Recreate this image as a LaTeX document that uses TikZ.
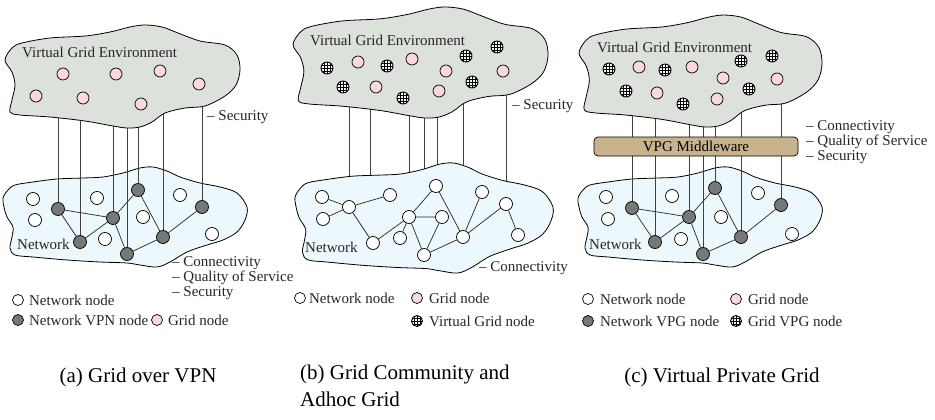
\documentclass[tikz,border=0pt]{standalone}
\usepackage{fontspec}
\setmainfont{Liberation Serif}
\usetikzlibrary{positioning}

\definecolor{vgegray}{HTML}{DDE1DC}
\definecolor{netblue}{HTML}{EDF8FC}
\definecolor{gridpink}{HTML}{FAD9DC}
\definecolor{vpngray}{HTML}{787878}
\definecolor{mwtan}{HTML}{C8B48C}

% cloud outlines, drawn in the coordinates of panel (a)
\newcommand{\vgepath}{plot[smooth cycle, tension=0.55] coordinates {(5,60) (12,48) (22,43) (50,38) (85,36) (110,32) (130,27) (145,25) (162,27) (178,33) (200,41) (225,45) (237,55) (240,70) (236,85) (225,96) (205,106) (185,108) (165,113) (152,122) (140,127) (127,128) (113,126) (85,121) (50,117) (20,115) (10,112) (12,100) (15,85) (12,72)}}
\newcommand{\netpath}{plot[smooth cycle, tension=0.55] coordinates {(3,198) (8,190) (15,185) (33,182) (57,179) (83,178) (103,177) (123,173) (140,168) (153,167) (167,171) (180,177) (200,183) (220,187) (237,193) (247,207) (245,220) (237,232) (223,240) (207,245) (187,252) (170,262) (157,267) (140,265) (127,263) (100,262) (67,260) (33,257) (15,255) (10,248) (12,237) (13,227) (7,217) (4,207)}}

\tikzset{
  vgecloud/.style={fill=vgegray, draw, line width=0.8pt},
  netcloud/.style={fill=netblue, draw, line width=0.8pt},
  netnode/.style={circle, draw, fill=white, minimum size=13pt, inner sep=0pt, line width=0.7pt},
  vpnnode/.style={netnode, fill=vpngray},
  gridnode/.style={netnode, fill=gridpink, minimum size=12pt},
  meshnode/.style={netnode, minimum size=12pt, line width=0.9pt, path picture={
    \foreach \k in {-3,0,3}{
      \draw[line width=0.6pt] ([xshift=\k pt]path picture bounding box.north) -- ([xshift=\k pt]path picture bounding box.south);
      \draw[line width=0.6pt] ([yshift=\k pt]path picture bounding box.west) -- ([yshift=\k pt]path picture bounding box.east);
    }}},
  legnode/.style={minimum size=11pt},
  link/.style={line width=0.7pt, draw=black!85},
  drop/.style={line width=0.6pt, draw=black!75},
  txt/.style={font=\fontsize{15}{15}\selectfont, inner sep=0pt, text=black!85},
  caption/.style={font=\fontsize{21}{27}\selectfont, inner sep=0pt},
  mwbox/.style={draw, fill=mwtan, rounded corners=4pt, line width=0.7pt, minimum width=204pt, minimum height=19pt, inner sep=0pt, font=\fontsize{15}{15}\selectfont}
}

\begin{document}
\begin{tikzpicture}[x=1pt, y=-1pt]
\useasboundingbox (0,0) rectangle (935,420);

% (a) grid over VPN
\filldraw[netcloud] \netpath;
\node[netnode] (aw1) at (33,199) {};
\node[netnode] (aw2) at (97,198) {};
\node[netnode] (aw3) at (180,195) {};
\node[netnode] (aw4) at (35,220) {};
\node[netnode] (aw5) at (143,217) {};
\node[netnode] (aw6) at (105,239) {};
\node[netnode] (aw7) at (212,234) {};
\node[vpnnode] (av1) at (58,209) {};
\node[vpnnode] (av2) at (80,242) {};
\node[vpnnode] (av3) at (113,218) {};
\node[vpnnode] (av4) at (138,190) {};
\node[vpnnode] (av5) at (127,254) {};
\node[vpnnode] (av6) at (163,237) {};
\node[vpnnode] (av7) at (202,207) {};
\draw[link] (av1) -- (av3) (av1) -- (av2) (av2) -- (av3) (av3) -- (av4)
  (av3) -- (av5) (av4) -- (av6) (av5) -- (av6) (av6) -- (av7);
\foreach \n in {1,...,7} \draw[drop] (av\n) -- (av\n |- 0,95);

\filldraw[vgecloud] \vgepath;
\node[txt, anchor=west] (avge) at (22,52) {Virtual Grid Environment};
\node[gridnode] (ag1) at (63,74) {};
\node[gridnode] (ag2) at (116,74) {};
\node[gridnode] (ag3) at (160,71) {};
\node[gridnode] (ag4) at (199,84) {};
\node[gridnode] (ag5) at (36,96) {};
\node[gridnode] (ag6) at (83,98) {};
\node[gridnode] (ag7) at (141,104) {};

\node[txt, anchor=west] (asec) at (207,117) {-- Security};
\node[txt, anchor=west] (anet) at (17,244) {Network};
\node[txt, anchor=west, align=left] (alist) at (172,278) {-- Connectivity\\-- Quality of Service\\-- Security};

\node[netnode, legnode] (la1) at (18,300) {};
\node[txt, right=5pt of la1] {Network node};
\node[vpnnode, legnode] (la2) at (18,320) {};
\node[txt, right=5pt of la2] {Network VPN node};
\node[gridnode, legnode] (la3) at (157,320) {};
\node[txt, right=5pt of la3] {Grid node};

% (b) grid community and adhoc grid
\foreach \x [count=\i] in {349,370,409,424,437,463,506}{
  \coordinate (bt\i) at (\x,85);
  \coordinate (bb\i) at (\x,200);
  \draw[drop] (bt\i) -- (bb\i);
}
\begin{scope}[shift={(420,62.5)}, xscale=1.085, yscale=1.078, shift={(-122,-76.5)}]
  \filldraw[vgecloud] \vgepath;
\end{scope}
\begin{scope}[shift={(424,218)}, xscale=1.057, yscale=1.1, shift={(-125,-217)}]
  \filldraw[netcloud] \netpath;
\end{scope}

\node[txt, anchor=west] (bvge) at (310,40) {Virtual Grid Environment};
\node[meshnode] (bm1) at (327,68) {};
\node[meshnode] (bm2) at (387,66) {};
\node[meshnode] (bm3) at (466,56) {};
\node[meshnode] (bm4) at (497,47) {};
\node[meshnode] (bm5) at (343,87) {};
\node[meshnode] (bm6) at (403,98) {};
\node[meshnode] (bm7) at (472,82) {};
\node[gridnode] (bg1) at (358,62) {};
\node[gridnode] (bg2) at (412,59) {};
\node[gridnode] (bg3) at (446,71) {};
\node[gridnode] (bg4) at (503,71) {};
\node[gridnode] (bg5) at (376,87) {};
\node[gridnode] (bg6) at (439,91) {};

\node[netnode] (bn1) at (322,197) {};
\node[netnode] (bn2) at (349,207) {};
\node[netnode] (bn3) at (390,195) {};
\node[netnode] (bn4) at (323,219) {};
\node[netnode] (bn5) at (373,243) {};
\node[netnode] (bn6) at (400,238) {};
\node[netnode] (bn7) at (409,217) {};
\node[netnode] (bn8) at (436,186) {};
\node[netnode] (bn9) at (442,217) {};
\node[netnode] (bn10) at (424,255) {};
\node[netnode] (bn11) at (463,237) {};
\node[netnode] (bn12) at (482,192) {};
\node[netnode] (bn13) at (506,204) {};
\node[netnode] (bn14) at (518,235) {};
\draw[link] (bn1) -- (bn2) (bn4) -- (bn2) (bn2) -- (bn3) (bn2) -- (bn5)
  (bn5) -- (bn7) (bn6) -- (bn7) (bn7) -- (bn8) (bn7) -- (bn9) (bn7) -- (bn10)
  (bn9) -- (bn10) (bn8) -- (bn11) (bn10) -- (bn11) (bn11) -- (bn12)
  (bn11) -- (bn13) (bn13) -- (bn14);

\node[txt, anchor=west] (bsec) at (512,106) {-- Security};
\node[txt, anchor=west] (bnet) at (305,247) {Network};
\node[txt, anchor=west] (bcon) at (479,268) {-- Connectivity};

\node[netnode, legnode] (lb1) at (300,298) {};
\node[txt, right=3pt of lb1] {Network node};
\node[gridnode, legnode] (lb2) at (417,298) {};
\node[txt, right=6pt of lb2] {Grid node};
\node[meshnode, legnode] (lb3) at (417,321) {};
\node[txt, right=6pt of lb3] {Virtual Grid node};

% (c) virtual private grid
\begin{scope}[xshift=575]
  \filldraw[netcloud] \netpath;
\end{scope}
\node[netnode] (cw1) at (606,197) {};
\node[netnode] (cw2) at (672,196) {};
\node[netnode] (cw3) at (758,193) {};
\node[netnode] (cw4) at (608,219) {};
\node[netnode] (cw5) at (721,217) {};
\node[netnode] (cw6) at (681,239) {};
\node[netnode] (cw7) at (792,234) {};
\node[vpnnode] (cv1) at (632,208) {};
\node[vpnnode] (cv2) at (655,242) {};
\node[vpnnode] (cv3) at (689,217) {};
\node[vpnnode] (cv4) at (715,188) {};
\node[vpnnode] (cv5) at (703,254) {};
\node[vpnnode] (cv6) at (741,237) {};
\node[vpnnode] (cv7) at (781,205) {};
\draw[link] (cv1) -- (cv3) (cv1) -- (cv2) (cv2) -- (cv3) (cv3) -- (cv4)
  (cv3) -- (cv5) (cv4) -- (cv6) (cv5) -- (cv6) (cv6) -- (cv7);
\foreach \n in {1,...,7} \draw[drop] (cv\n) -- (cv\n |- 0,95);

\begin{scope}[shift={(700,71)}, xscale=1.034, yscale=1.087, shift={(-122,-76.5)}]
  \filldraw[vgecloud] \vgepath;
\end{scope}
\node[mwbox] (cmw) at (696,146.5) {VPG Middleware};

\node[txt, anchor=west] (cvge) at (597,47) {Virtual Grid Environment};
\node[meshnode] (cm1) at (609,69) {};
\node[meshnode] (cm2) at (665,70) {};
\node[meshnode] (cm3) at (741,61) {};
\node[meshnode] (cm4) at (772,56) {};
\node[meshnode] (cm5) at (626,91) {};
\node[meshnode] (cm6) at (683,104) {};
\node[meshnode] (cm7) at (749,89) {};
\node[gridnode] (cg1) at (639,67) {};
\node[gridnode] (cg2) at (692,67) {};
\node[gridnode] (cg3) at (723,78) {};
\node[gridnode] (cg4) at (777,79) {};
\node[gridnode] (cg5) at (657,93) {};
\node[gridnode] (cg6) at (717,99) {};

\node[txt, anchor=west, align=left] (clist) at (806,142) {-- Connectivity\\-- Quality of Service\\-- Security};
\node[txt, anchor=west] (cnet) at (589,244) {Network};

\node[netnode, legnode] (lc1) at (588,299) {};
\node[txt, right=6pt of lc1] {Network node};
\node[gridnode, legnode] (lc2) at (736,299) {};
\node[txt, right=6pt of lc2] {Grid node};
\node[vpnnode, legnode] (lc3) at (588,321) {};
\node[txt, right=6pt of lc3] {Network VPG node};
\node[meshnode, legnode] (lc4) at (736,321) {};
\node[txt, right=6pt of lc4] {Grid VPG node};

% captions
\node[caption] (capa) at (138,377) {(a) Grid over VPN};
\node[caption, anchor=north west, align=left] (capb) at (300,365) {(b) Grid Community and\\Adhoc Grid};
\node[caption] (capc) at (722,377) {(c) Virtual Private Grid};
\end{tikzpicture}
\end{document}
